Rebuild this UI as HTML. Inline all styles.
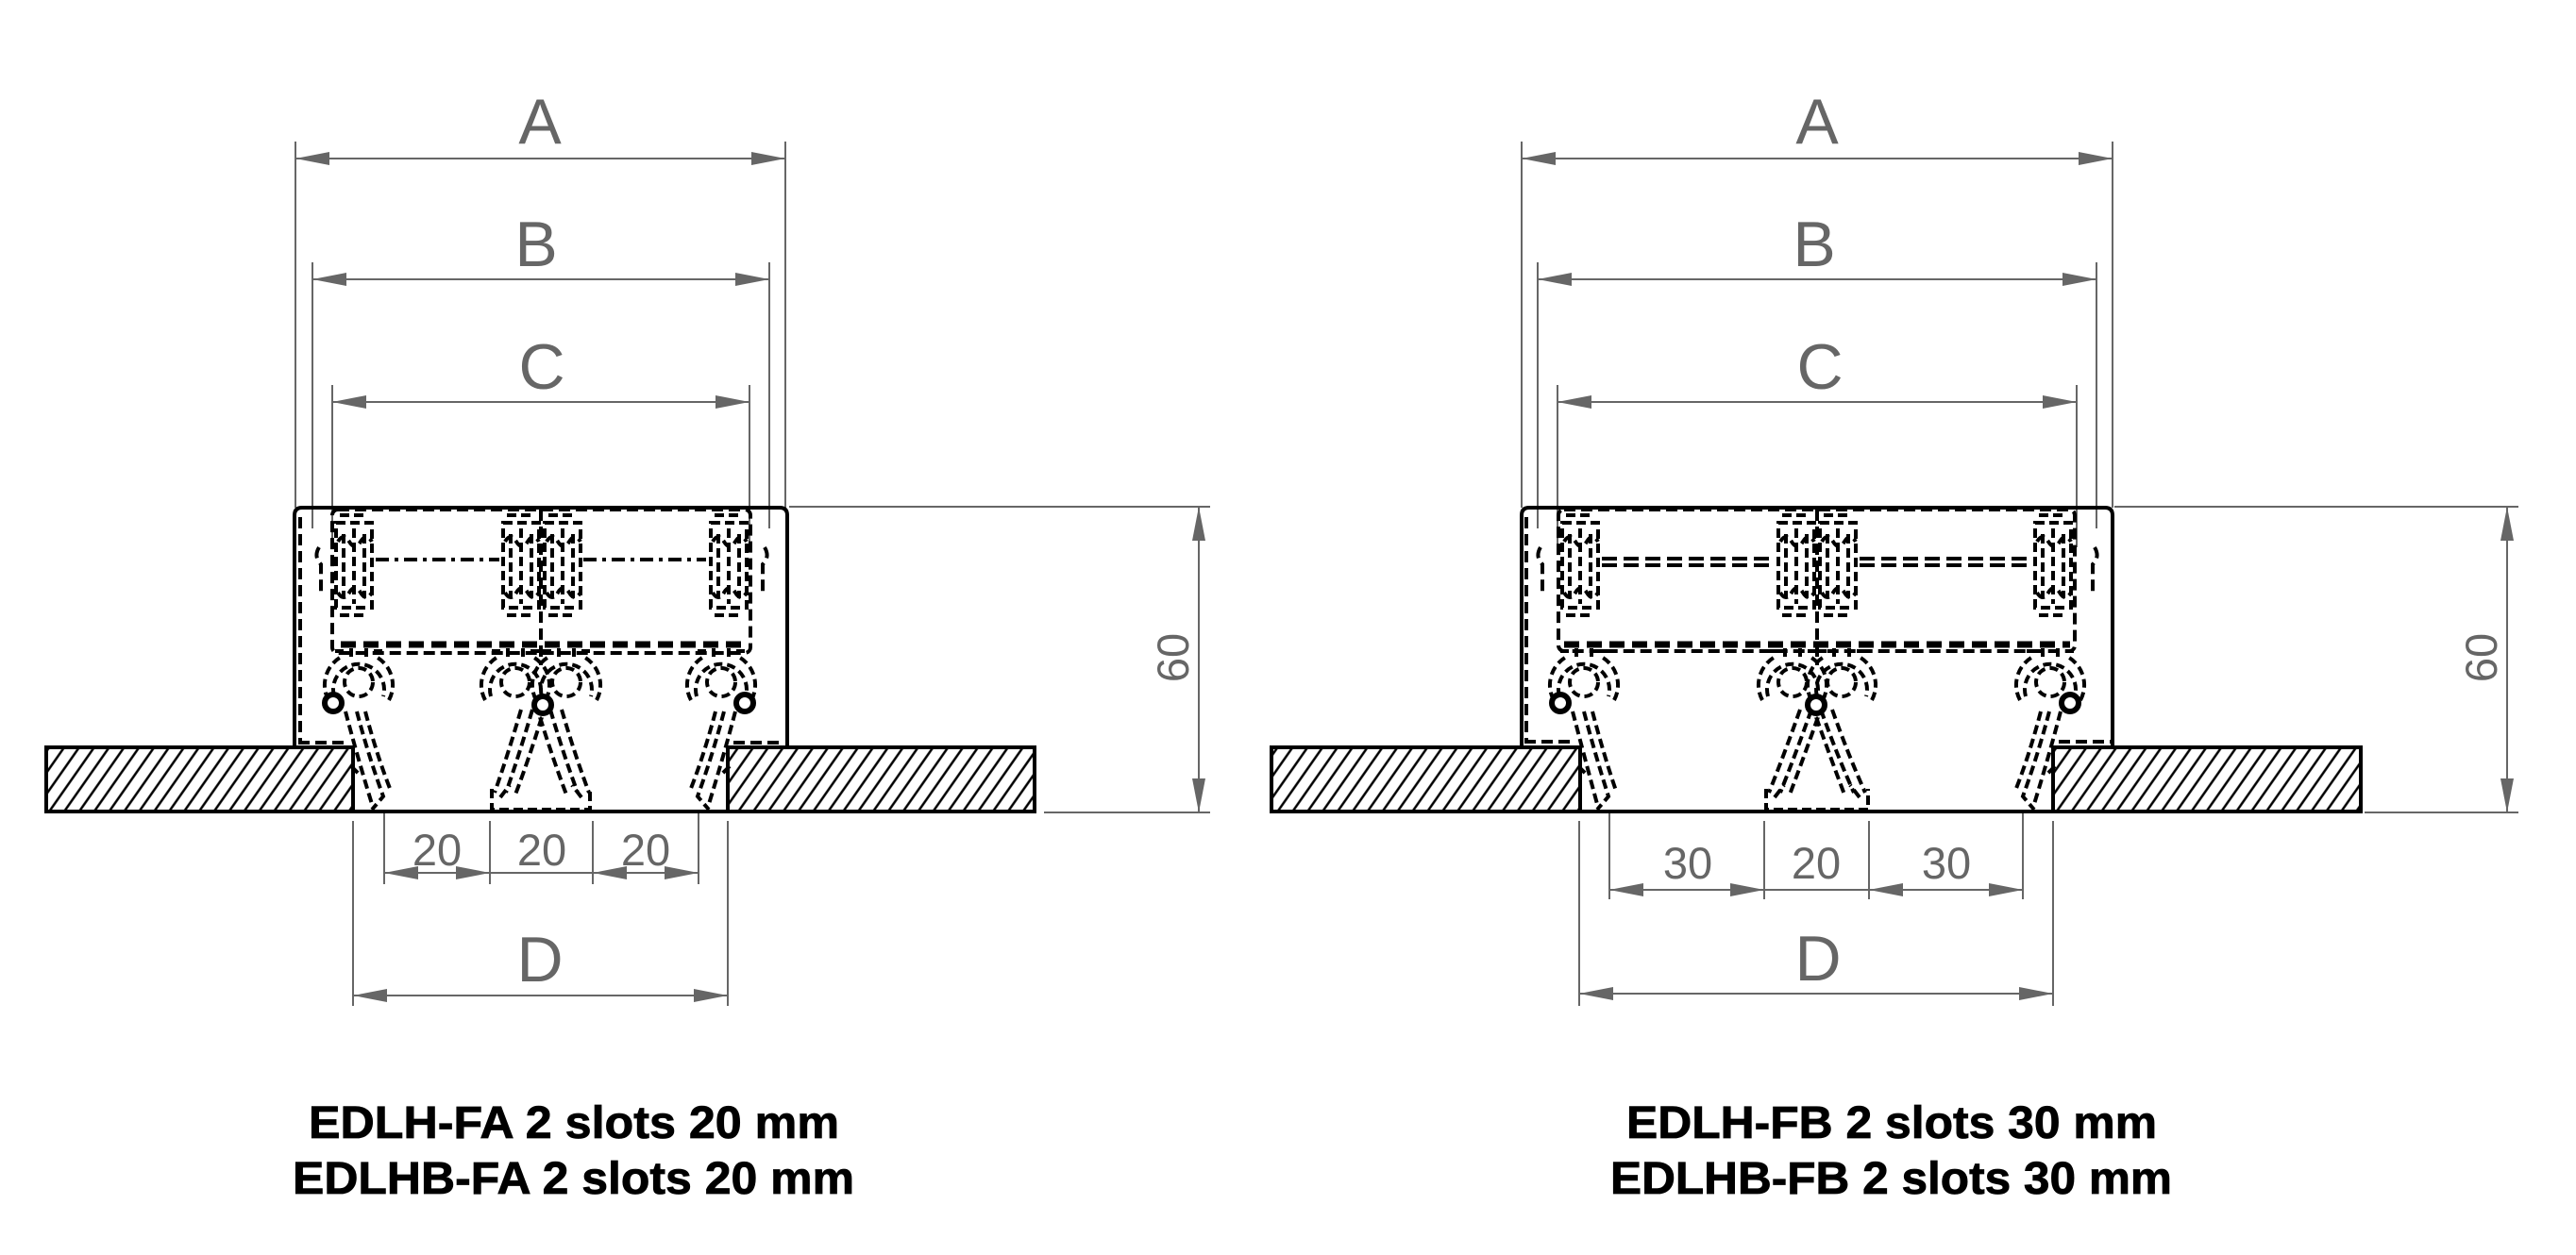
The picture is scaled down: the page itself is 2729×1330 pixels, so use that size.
<!DOCTYPE html>
<html><head><meta charset="utf-8"><style>
html,body{margin:0;padding:0;background:#fff;}
svg{display:block;}
</style></head><body>
<svg width="2729" height="1330" viewBox="0 0 2729 1330" xmlns="http://www.w3.org/2000/svg">
<defs>
<marker id="ar" viewBox="0 0 36 14" refX="36" refY="7" markerUnits="userSpaceOnUse" markerWidth="36" markerHeight="14" orient="auto-start-reverse">
<path d="M0 0 L36 7 L0 14 Z" fill="#666"/></marker>
<pattern id="hatch" width="13" height="13" patternUnits="userSpaceOnUse" patternTransform="rotate(35)">
<line x1="3" y1="0" x2="3" y2="13" stroke="#000" stroke-width="2.5"/></pattern>
<g id="bl" fill="none" stroke="#000" stroke-width="4" stroke-dasharray="10 5">
<path d="M4 554 H42 V644 H4 Z"/>
<path d="M12 566 V634 M34 566 V634"/>
<path d="M6 574 q6 -10 12 0 t12 0 t12 0"/>
<path d="M6 628 q6 10 12 0 t12 0 t12 0"/>
<path d="M8 546 h30 M8 652 h30"/>
<path d="M23 560 v80"/>
</g>
<g id="lo" fill="none" stroke="#000" stroke-width="4" stroke-dasharray="9 5">
<circle cx="0" cy="723" r="15"/>
<path d="M-26 738 A27 27 0 1 1 26 738"/>
<path d="M-32 742 A34 34 0 0 1 -20 697 M32 742 A34 34 0 0 0 20 697"/>
<path d="M-8 696 V684 M8 696 V684 M-16 690 h-12 M16 690 h12"/>
</g>
</defs>

<g font-family="'Liberation Sans', 'DejaVu Sans', sans-serif" fill="#666" text-anchor="middle">
<g stroke="#666" stroke-width="2" fill="none">
<path d="M313 150 V538 M832 150 V538 M331 278 V560 M815 278 V560 M352 408 V580 M794 408 V580"/>
<line x1="313" y1="168" x2="832" y2="168" marker-start="url(#ar)" marker-end="url(#ar)"/>
<line x1="331" y1="296" x2="815" y2="296" marker-start="url(#ar)" marker-end="url(#ar)"/>
<line x1="352" y1="426" x2="794" y2="426" marker-start="url(#ar)" marker-end="url(#ar)"/>
<path d="M836 537 H1282 M1106 861 H1282"/>
<line x1="1270" y1="537" x2="1270" y2="861" marker-start="url(#ar)" marker-end="url(#ar)"/>
<path d="M407 862 V937 M519 870 V937 M628 870 V937 M740 862 V937 M374 870 V1066 M771 870 V1066"/>
<line x1="407" y1="925" x2="519" y2="925" marker-start="url(#ar)" marker-end="url(#ar)"/>
<line x1="628" y1="925" x2="740" y2="925" marker-start="url(#ar)" marker-end="url(#ar)"/>
<line x1="519" y1="925" x2="628" y2="925"/>
<line x1="374" y1="1055" x2="771" y2="1055" marker-start="url(#ar)" marker-end="url(#ar)"/>
</g>
<text x="572" y="152" font-size="68">A</text>
<text x="568" y="282" font-size="68">B</text>
<text x="574" y="412" font-size="68">C</text>
<text x="572" y="1040" font-size="68">D</text>
<text x="463" y="917" font-size="47">20</text>
<text x="574" y="917" font-size="47">20</text>
<text x="684" y="917" font-size="47">20</text>
<text transform="translate(1259,697) rotate(-90)" font-size="47">60</text>

<g stroke="#666" stroke-width="2" fill="none">
<path d="M1612 150 V538 M2238 150 V538 M1629 278 V560 M2221 278 V560 M1650 408 V580 M2200 408 V580"/>
<line x1="1612" y1="168" x2="2238" y2="168" marker-start="url(#ar)" marker-end="url(#ar)"/>
<line x1="1629" y1="296" x2="2221" y2="296" marker-start="url(#ar)" marker-end="url(#ar)"/>
<line x1="1650" y1="426" x2="2200" y2="426" marker-start="url(#ar)" marker-end="url(#ar)"/>
<path d="M2240 537 H2668 M2505 861 H2668"/>
<line x1="2656" y1="537" x2="2656" y2="861" marker-start="url(#ar)" marker-end="url(#ar)"/>
<path d="M1705 862 V953 M1869 870 V953 M1980 870 V953 M2143 862 V953 M1673 870 V1066 M2175 870 V1066"/>
<line x1="1705" y1="943" x2="1869" y2="943" marker-start="url(#ar)" marker-end="url(#ar)"/>
<line x1="1980" y1="943" x2="2143" y2="943" marker-start="url(#ar)" marker-end="url(#ar)"/>
<line x1="1869" y1="943" x2="1980" y2="943"/>
<line x1="1673" y1="1053" x2="2175" y2="1053" marker-start="url(#ar)" marker-end="url(#ar)"/>
</g>
<text x="1925" y="152" font-size="68">A</text>
<text x="1922" y="282" font-size="68">B</text>
<text x="1928" y="412" font-size="68">C</text>
<text x="1926" y="1039" font-size="68">D</text>
<text x="1788" y="931" font-size="47">30</text>
<text x="1924" y="931" font-size="47">20</text>
<text x="2062" y="931" font-size="47">30</text>
<text transform="translate(2645,697) rotate(-90)" font-size="47">60</text>
</g>

<!-- LEFT drawing -->
<g>
<rect x="49" y="792" width="325" height="68" fill="url(#hatch)" stroke="#000" stroke-width="4"/>
<rect x="771" y="792" width="325" height="68" fill="url(#hatch)" stroke="#000" stroke-width="4"/>
<line x1="374" y1="860" x2="771" y2="860" stroke="#000" stroke-width="4"/>
<path d="M312 792 V546 Q312 538 320 538 H826 Q834 538 834 546 V792" fill="none" stroke="#000" stroke-width="4"/>
<g fill="none" stroke="#000" stroke-width="4" stroke-dasharray="12 6">
<path d="M318 548 V787 M316 787 H370 M777 787 H830"/>
<rect x="352" y="540" width="443" height="152" rx="6"/>
<path d="M573 540 V705"/>
<path d="M338 580 q-6 10 2 18 v30 M810 580 q6 10 -2 18 v30"/>
</g>
<line x1="361" y1="683" x2="789" y2="683" stroke="#000" stroke-width="7" stroke-dasharray="16 8"/>
<g stroke="#000" stroke-width="4" stroke-dasharray="14 6 4 6"><line x1="398" y1="593" x2="529" y2="593"/><line x1="618" y1="593" x2="748" y2="593"/></g>
<use href="#bl" transform="translate(352,0)"/>
<use href="#bl" transform="translate(529,0)"/>
<use href="#bl" transform="translate(573,0)"/>
<use href="#bl" transform="translate(749,0)"/>
<use href="#lo" transform="translate(380,0)"/>
<use href="#lo" transform="translate(546,0)"/>
<use href="#lo" transform="translate(600,0)"/>
<use href="#lo" transform="translate(764,0)"/>
<g fill="#fff" stroke="#000" stroke-width="6"><circle cx="353" cy="745" r="9"/><circle cx="575" cy="747" r="9"/><circle cx="789" cy="745" r="9"/></g>
<g fill="none" stroke="#000" stroke-width="4" stroke-dasharray="10 5">
<path d="M366 754 Q378 800 394 852 M378 754 Q390 800 406 844 L394 858 M372 812 l10 10 M387 754 Q399 800 414 838"/>
<path d="M779 754 Q767 800 751 852 M767 754 Q755 800 739 844 L751 858 M773 812 l-10 10 M758 754 Q746 800 731 838"/>
<path d="M552 752 Q538 800 524 840 M564 752 Q550 800 536 840 M574 760 Q560 805 546 842 M595 752 Q609 800 624 840 M583 752 Q597 800 612 840 M572 760 Q586 805 600 842"/>
<path d="M521 836 V858 H625 V836 M530 845 L540 832 M616 845 L606 832"/>
</g>
</g>

<!-- RIGHT drawing -->
<g>
<rect x="1347" y="792" width="327" height="68" fill="url(#hatch)" stroke="#000" stroke-width="4"/>
<rect x="2175" y="792" width="326" height="68" fill="url(#hatch)" stroke="#000" stroke-width="4"/>
<line x1="1674" y1="860" x2="2175" y2="860" stroke="#000" stroke-width="4"/>
<path d="M1612 792 V546 Q1612 538 1620 538 H2230 Q2238 538 2238 546 V792" fill="none" stroke="#000" stroke-width="4"/>
<g fill="none" stroke="#000" stroke-width="4" stroke-dasharray="12 6">
<path d="M1617 548 V787 M1615 786 H1667 M2181 786 H2236"/>
<rect x="1651" y="540" width="547" height="150" rx="6"/>
<path d="M1925 540 V705"/>
<path d="M1632 580 q-6 10 2 18 v30 M2219 580 q6 10 -2 18 v30"/>
</g>
<line x1="1657" y1="683" x2="2193" y2="683" stroke="#000" stroke-width="7" stroke-dasharray="16 8"/>
<g stroke="#000" stroke-width="4" stroke-dasharray="16 7"><path d="M1697 592 H1880 M1697 599 H1880 M1970 592 H2153 M1970 599 H2153"/></g>
<use href="#bl" transform="translate(1651,0)"/>
<use href="#bl" transform="translate(1880,0)"/>
<use href="#bl" transform="translate(1924,0)"/>
<use href="#bl" transform="translate(2152,0)"/>
<use href="#lo" transform="translate(1678,0)"/>
<use href="#lo" transform="translate(1899,0)"/>
<use href="#lo" transform="translate(1951,0)"/>
<use href="#lo" transform="translate(2172,0)"/>
<g fill="#fff" stroke="#000" stroke-width="6"><circle cx="1653" cy="745" r="9"/><circle cx="1924" cy="747" r="9"/><circle cx="2193" cy="745" r="9"/></g>
<g fill="none" stroke="#000" stroke-width="4" stroke-dasharray="10 5">
<path d="M1666 754 Q1678 800 1692 852 M1678 754 Q1690 800 1704 844 L1692 858 M1672 812 l10 10 M1687 754 Q1699 800 1712 838"/>
<path d="M2183 754 Q2171 800 2155 852 M2171 754 Q2159 800 2143 844 L2155 858 M2177 812 l-10 10 M2162 754 Q2150 800 2135 838"/>
<path d="M1907 752 Q1890 800 1874 840 M1919 752 Q1902 800 1886 840 M1926 760 Q1910 805 1896 842 M1941 752 Q1958 800 1976 840 M1929 752 Q1946 800 1964 840 M1924 760 Q1940 805 1954 842"/>
<path d="M1871 836 V858 H1979 V836 M1880 845 L1890 832 M1970 845 L1960 832"/>
</g>
</g>

<g font-family="'Liberation Sans Narrow','Liberation Sans', sans-serif" font-weight="bold" font-size="48" fill="#000" stroke="#000" stroke-width="0.8">
<text x="327" y="1206" textLength="562" lengthAdjust="spacingAndGlyphs">EDLH-FA 2 slots 20 mm</text>
<text x="310" y="1265" textLength="595" lengthAdjust="spacingAndGlyphs">EDLHB-FA 2 slots 20 mm</text>
<text x="1723" y="1206" textLength="562" lengthAdjust="spacingAndGlyphs">EDLH-FB 2 slots 30 mm</text>
<text x="1706" y="1265" textLength="595" lengthAdjust="spacingAndGlyphs">EDLHB-FB 2 slots 30 mm</text>
</g>
</svg>
</body></html>
